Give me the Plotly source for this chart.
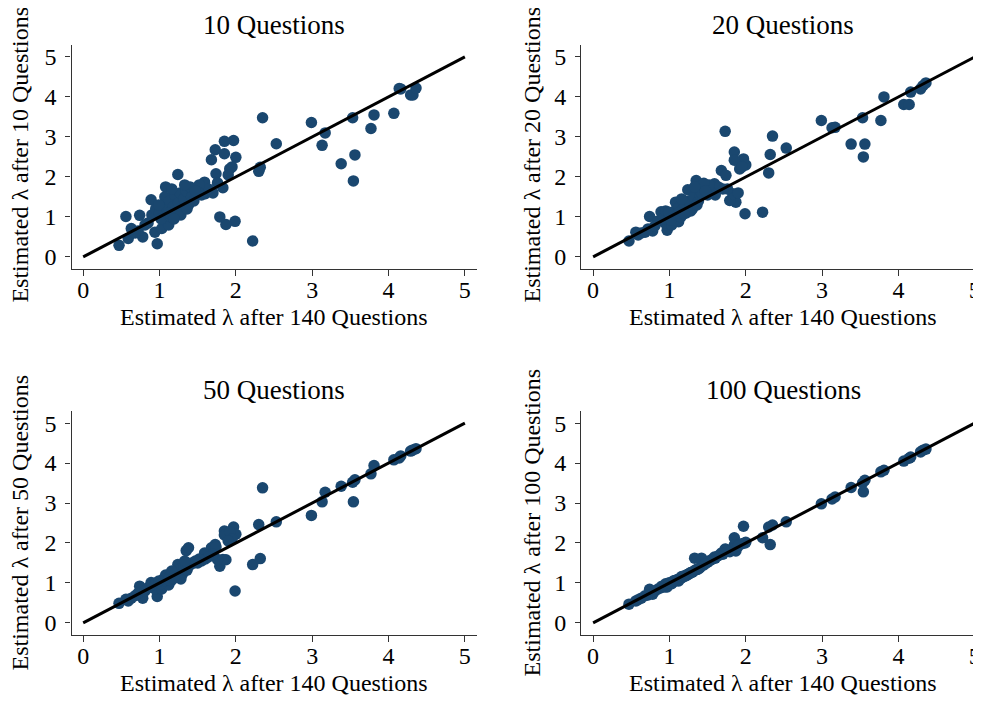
import plotly.graph_objects as go

# Estimated lambda after 140 questions (x) and after k questions (y)
lam_140 = [2.22, 2.30, 2.32, 2.35, 2.53, 2.99, 3.13, 3.17, 3.38, 3.53, 3.54, 3.56, 3.77, 3.81, 4.07, 4.14, 4.16, 4.29, 4.32, 4.36,
           1.99, 1.87, 1.79, 1.97, 1.85, 1.73, 1.68, 1.85, 2.00, 1.92, 1.95, 1.74, 1.59, 1.60, 1.83, 1.76, 1.90, 1.70, 1.64, 1.55, 1.52, 1.50,
           0.47, 0.56, 0.59, 0.63, 0.74, 0.78, 0.72, 0.97, 0.94, 0.89, 1.03, 1.08, 1.24, 1.12, 0.85, 0.90, 0.95, 1.00, 1.02, 1.05, 1.07,
           1.10, 1.13, 1.15, 1.18, 1.20, 1.22, 1.25, 1.27, 1.30, 1.32, 1.35, 1.38, 1.40, 1.42, 1.45, 1.47, 0.99, 1.16, 1.28, 1.12, 0.81,
           0.68, 1.36, 1.19, 1.33]
lam_10 = [0.40, 2.14, 2.24, 3.48, 2.83, 3.36, 2.79, 3.10, 2.33, 3.48, 1.90, 2.55, 3.21, 3.55, 3.59, 4.21, 4.20, 4.05, 4.05, 4.22,
          0.89, 0.81, 1.00, 2.91, 2.89, 2.68, 2.43, 2.58, 2.49, 2.20, 2.25, 2.08, 1.87, 1.58, 1.73, 1.85, 2.05, 1.60, 1.70, 1.55, 1.80, 1.62,
          0.29, 1.01, 0.46, 0.71, 1.04, 0.50, 0.65, 0.33, 0.62, 1.43, 0.71, 1.75, 2.06, 0.80, 0.85, 1.05, 1.20, 1.10, 0.95, 1.30, 1.50,
          1.20, 1.40, 1.00, 1.25, 1.55, 1.10, 1.35, 1.60, 1.20, 1.45, 1.65, 1.30, 1.75, 1.50, 1.40, 1.65, 1.30, 1.70, 1.05, 1.10, 0.80,
          0.60, 1.20, 0.95, 1.80]
lam_20 = [1.12, 2.10, 2.56, 3.02, 2.72, 3.41, 3.23, 3.24, 2.82, 3.48, 2.50, 2.82, 3.41, 4.00, 3.81, 3.81, 4.12, 4.20, 4.28, 4.35,
          1.08, 1.37, 1.41, 2.45, 2.62, 3.14, 2.16, 2.42, 2.30, 2.20, 2.25, 2.04, 1.83, 1.55, 1.58, 1.70, 1.60, 1.70, 1.75, 1.60, 1.80, 1.55,
          0.40, 0.62, 0.55, 0.60, 1.01, 0.65, 0.70, 0.67, 0.85, 1.13, 0.80, 1.37, 1.68, 0.88, 0.90, 0.95, 1.15, 1.05, 0.92, 1.10, 1.15,
          1.05, 1.25, 1.00, 1.20, 1.30, 1.10, 1.40, 1.35, 1.20, 1.50, 1.91, 1.40, 1.55, 1.60, 1.84, 1.65, 1.12, 1.45, 1.15, 1.10, 0.78,
          0.62, 1.30, 1.08, 1.75]
lam_50 = [1.46, 2.46, 1.61, 3.38, 2.53, 2.69, 3.03, 3.27, 3.42, 3.52, 3.03, 3.58, 3.73, 3.94, 4.08, 4.13, 4.18, 4.30, 4.33, 4.36,
          0.80, 1.58, 1.42, 2.40, 2.30, 1.96, 1.88, 2.20, 2.22, 2.28, 2.10, 1.90, 1.75, 1.60, 1.59, 1.59, 2.05, 1.72, 1.65, 1.55, 1.60, 1.50,
          0.49, 0.59, 0.55, 0.62, 0.92, 0.62, 0.75, 0.66, 0.85, 1.01, 0.85, 1.20, 1.46, 0.95, 0.88, 0.95, 1.00, 1.02, 0.98, 1.10, 1.05,
          1.12, 1.15, 1.05, 1.20, 1.25, 1.15, 1.30, 1.35, 1.22, 1.40, 1.81, 1.88, 1.45, 1.50, 1.50, 1.55, 1.05, 1.30, 1.10, 1.08, 0.80,
          0.68, 1.32, 1.12, 1.55]
lam_100 = [2.13, 2.40, 1.96, 2.45, 2.53, 2.98, 3.10, 3.15, 3.39, 3.50, 3.28, 3.57, 3.78, 3.82, 4.05, 4.12, 4.15, 4.28, 4.32, 4.35,
           2.00, 1.80, 1.78, 2.42, 2.13, 1.85, 1.75, 1.95, 2.02, 1.97, 1.98, 1.84, 1.65, 1.62, 1.85, 1.80, 1.92, 1.72, 1.68, 1.58, 1.55, 1.52,
           0.47, 0.55, 0.58, 0.62, 0.84, 0.72, 0.70, 0.90, 0.90, 0.88, 0.98, 1.05, 1.22, 1.05, 0.85, 0.92, 0.98, 1.00, 1.00, 1.05, 1.06,
           1.08, 1.10, 1.12, 1.15, 1.18, 1.18, 1.22, 1.25, 1.27, 1.30, 1.33, 1.35, 1.38, 1.62, 1.45, 1.48, 1.00, 1.16, 1.26, 1.10, 0.80,
           0.68, 1.34, 1.17, 1.62]

panel_titles = ["10 Questions", "20 Questions", "50 Questions", "100 Questions"]
y_titles = ["Estimated λ after 10 Questions", "Estimated λ after 20 Questions",
            "Estimated λ after 50 Questions", "Estimated λ after 100 Questions"]
x_title = "Estimated λ after 140 Questions"
tick_vals = [0, 1, 2, 3, 4, 5]
line_ends = [0, 5]

# page is 981x701; the html body adds an 8px margin, so the figure is offset by 8px
OX, OY = 8, 8
W, H = 981 - OX, 701 - OY
FONT = "Liberation Serif, Times New Roman, serif"
NAVY = "#1a476f"


def px(x):
    return (x - OX) / W


def py(y):
    return 1 - (y - OY) / H


# panel geometry in page pixels: (left, right, top, bottom, xrange, yrange)
panels = [
    (71.7, 477.5, 44.0, 268.7, [-0.152, 5.153], [-0.30, 5.30]),
    (582.3, 981.0, 44.0, 268.7, [-0.157, 5.055], [-0.30, 5.30]),
    (71.7, 477.5, 411.0, 636.0, [-0.152, 5.153], [-0.307, 5.307]),
    (582.3, 981.0, 411.0, 636.0, [-0.157, 5.055], [-0.307, 5.307]),
]
title_pos = [(274.6, 24), (785, 24), (274.6, 390), (785, 390)]
xtitle_pos = [(274.6, 317), (785, 317), (274.6, 684), (785, 684)]
ytitle_pos = [(20, 154), (533, 154), (20, 523), (533, 523)]
series = [lam_10, lam_20, lam_50, lam_100]

fig = go.Figure()
layout = dict(
    width=W, height=H, margin=dict(l=0, r=0, t=0, b=0),
    paper_bgcolor="white", plot_bgcolor="white", showlegend=False,
    font=dict(family=FONT, color="black", size=24),
)
annotations = []
for i, (l, r, t, b, xr, yr) in enumerate(panels):
    n = "" if i == 0 else str(i + 1)
    xa, ya = "x" + n, "y" + n
    fig.add_trace(go.Scatter(x=lam_140, y=series[i], mode="markers", xaxis=xa, yaxis=ya,
                             marker=dict(size=11.5, color=NAVY, line=dict(width=0))))
    fig.add_trace(go.Scatter(x=line_ends, y=line_ends, mode="lines", xaxis=xa, yaxis=ya,
                             line=dict(color="black", width=3)))
    common = dict(showgrid=False, zeroline=False, showline=True, linecolor="#333333", linewidth=1.3,
                  ticks="outside", tickwidth=1.2, tickcolor="#333333", ticklabeloverflow="allow",
                  tickvals=tick_vals, tickfont=dict(family=FONT, size=24, color="black"), mirror=False)
    layout["xaxis" + n] = dict(common, domain=[px(l), min(px(r), 1.0)], range=xr, anchor=ya,
                               ticklen=6, ticklabelstandoff=-7)
    layout["yaxis" + n] = dict(common, domain=[py(b), py(t)], range=yr, anchor=xa,
                               ticklen=5, ticklabelstandoff=4)
    tx, ty = title_pos[i]
    annotations.append(dict(text=panel_titles[i], x=px(tx), y=py(ty), xref="paper", yref="paper",
                            showarrow=False, xanchor="center", yanchor="middle",
                            font=dict(family=FONT, size=27, color="black")))
    ax_, ay_ = xtitle_pos[i]
    annotations.append(dict(text=x_title, x=px(ax_), y=py(ay_), xref="paper", yref="paper",
                            showarrow=False, xanchor="center", yanchor="middle",
                            font=dict(family=FONT, size=24, color="black")))
    bx, by = ytitle_pos[i]
    annotations.append(dict(text=y_titles[i], x=px(bx), y=py(by), xref="paper", yref="paper",
                            showarrow=False, xanchor="center", yanchor="middle", textangle=-90,
                            font=dict(family=FONT, size=24, color="black")))
layout["annotations"] = annotations
fig.update_layout(**layout)
fig.write_html("out.html")
